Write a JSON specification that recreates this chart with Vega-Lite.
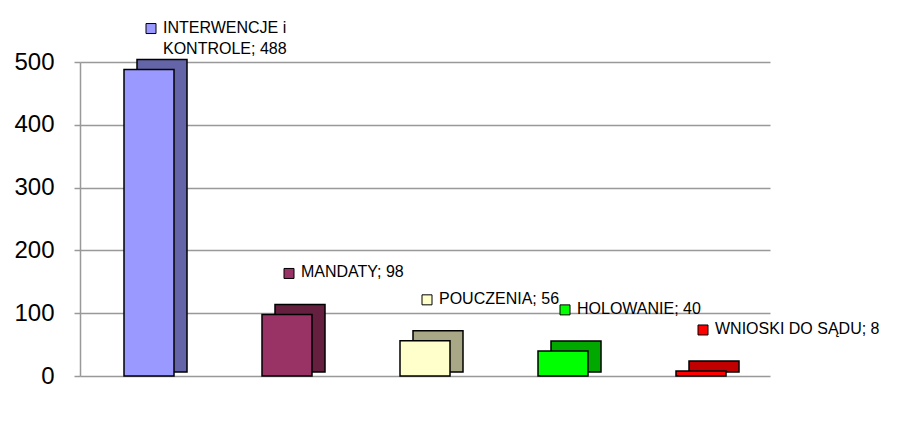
{
  "$schema": "https://vega.github.io/schema/vega-lite/v6.json",
  "autosize": "none",
  "width": 690,
  "height": 314,
  "padding": {"left": 80, "top": 62, "right": 150, "bottom": 67},
  "background": "white",
  "config": {
    "view": {"stroke": null},
    "font": "Liberation Sans",
    "axis": {"labelFont": "Liberation Sans"}
  },
  "data": {
    "values": [
      {"kategoria": "INTERWENCJE i KONTROLE", "wartosc": 488, "etykieta": "INTERWENCJE i\nKONTROLE; 488"},
      {"kategoria": "MANDATY", "wartosc": 98, "etykieta": "MANDATY; 98"},
      {"kategoria": "POUCZENIA", "wartosc": 56, "etykieta": "POUCZENIA; 56"},
      {"kategoria": "HOLOWANIE", "wartosc": 40, "etykieta": "HOLOWANIE; 40"},
      {"kategoria": "WNIOSKI DO SĄDU", "wartosc": 8, "etykieta": "WNIOSKI DO SĄDU; 8"}
    ]
  },
  "encoding": {
    "x": {"field": "kategoria", "type": "nominal", "sort": null, "axis": null,
          "scale": {"paddingInner": 0.2, "paddingOuter": 0.1}},
    "y": {"field": "wartosc", "type": "quantitative",
          "scale": {"domain": [0, 500], "nice": false},
          "axis": {"title": null, "values": [0, 100, 200, 300, 400, 500], "labelFontSize": 24, "labelColor": "black",
                   "grid": true, "gridColor": "#999999", "gridWidth": 1.5,
                   "domainColor": "#999999", "domainWidth": 1.5, "tickColor": "#999999", "tickWidth": 1.5, "tickSize": 6, "labelPadding": 20}}
  },
  "layer": [
    {
      "mark": {"type": "bar", "width": 50, "xOffset": 13, "yOffset": -10, "y2Offset": -4, "stroke": "black", "strokeWidth": 1.5},
      "encoding": {
        "y2": {"datum": 0},
        "color": {"field": "kategoria", "type": "nominal", "legend": null,
                  "scale": {"domain": ["INTERWENCJE i KONTROLE", "MANDATY", "POUCZENIA", "HOLOWANIE", "WNIOSKI DO SĄDU"],
                            "range": ["#6464A8", "#66203F", "#A8A886", "#00A800", "#C00000"]}}
      }
    },
    {
      "mark": {"type": "bar", "width": 50, "stroke": "black", "strokeWidth": 1.5},
      "encoding": {
        "color": {"field": "kategoria", "type": "nominal", "legend": null,
                  "scale": {"domain": ["INTERWENCJE i KONTROLE", "MANDATY", "POUCZENIA", "HOLOWANIE", "WNIOSKI DO SĄDU"],
                            "range": ["#9999FF", "#993366", "#FFFFCC", "#00FF00", "#FF0000"]}}
      }
    },
    {
      "mark": {"type": "point", "shape": "square", "size": 100, "filled": true, "stroke": "black", "strokeWidth": 1, "opacity": 1, "xOffset": 2, "yOffset": -41},
      "encoding": {
        "color": {"field": "kategoria", "type": "nominal", "legend": null,
                  "scale": {"domain": ["INTERWENCJE i KONTROLE", "MANDATY", "POUCZENIA", "HOLOWANIE", "WNIOSKI DO SĄDU"],
                            "range": ["#9999FF", "#993366", "#FFFFCC", "#00FF00", "#FF0000"]}}
      }
    },
    {
      "mark": {"type": "text", "align": "left", "baseline": "top", "dx": 14, "dy": -50, "fontSize": 16, "lineHeight": 21, "lineBreak": "\n", "color": "black"},
      "encoding": {"text": {"field": "etykieta"}}
    }
  ],
  "resolve": {"scale": {"color": "independent"}}
}
